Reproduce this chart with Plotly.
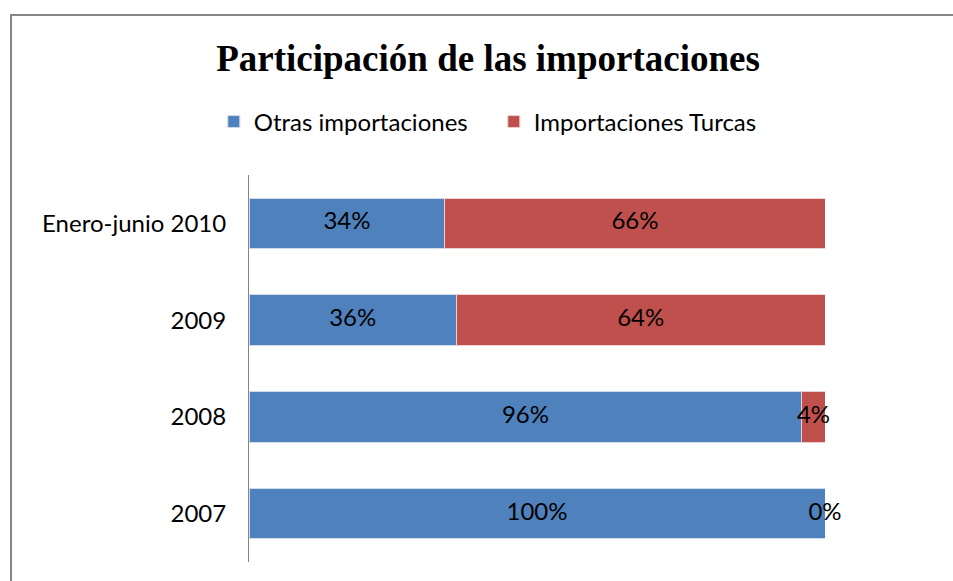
import plotly.graph_objects as go

categorias = ["2007", "2008", "2009", "Enero-junio 2010"]
otras = [1.00, 0.96, 0.36, 0.34]
turcas = [0.00, 0.04, 0.64, 0.66]
series = ["Otras importaciones", "Importaciones Turcas"]

AZUL = "#4F81BD"
ROJO = "#C0504D"
FUENTE = "Lato, Liberation Sans"

fig = go.Figure()
fig.add_trace(go.Bar(y=categorias, x=otras, name=series[0], orientation="h",
                     marker=dict(color=AZUL, line=dict(color="#d0dcec", width=1)),
                     hoverinfo="x+y"))
fig.add_trace(go.Bar(y=categorias, x=turcas, name=series[1], orientation="h",
                     marker=dict(color=ROJO, line=dict(color="#ecd0d0", width=1)),
                     hoverinfo="x+y"))

# etiquetas centradas en cada segmento (incluye el 0%)
centros_x, centros_y, textos = [], [], []
for cat, a, b in zip(categorias, otras, turcas):
    centros_x += [a / 2, a + b / 2]
    centros_y += [cat, cat]
    textos += [f"{round(a * 100)}%", f"{round(b * 100)}%"]
fig.add_trace(go.Scatter(x=centros_x, y=centros_y, text=textos, mode="text",
                         textfont=dict(family=FUENTE, size=24, color="#000000"),
                         cliponaxis=False, showlegend=False, hoverinfo="skip"))

fig.update_layout(
    width=953, height=581,
    barmode="stack", bargap=0.48,
    paper_bgcolor="white", plot_bgcolor="white",
    margin=dict(l=249, r=128, t=175, b=19),
    font=dict(family=FUENTE, size=24, color="#000000"),
    title=dict(text="<b>Participación de las importaciones</b>",
               font=dict(family="Liberation Serif", size=37, color="#000000"),
               xref="paper", x=0.415, xanchor="center",
               yref="container", y=1 - 58 / 581, yanchor="middle"),
    legend=dict(orientation="h", xref="paper", x=0.425, xanchor="center",
                yref="container", y=1 - 122 / 581, yanchor="middle",
                font=dict(size=24), itemwidth=30, traceorder="normal",
                entrywidth=235, entrywidthmode="pixels"),
    showlegend=True,
)
fig.update_xaxes(range=[0, 1], visible=False, fixedrange=True)
fig.update_yaxes(showline=True, linecolor="#868686", linewidth=1, ticks="",
                 ticklabelstandoff=17, tickfont=dict(size=24, color="#000000"),
                 showgrid=False, fixedrange=True)

# marco gris del área del gráfico: sólo bordes superior e izquierdo (CSS)
marco_js = """
document.body.style.margin='0';
document.body.style.overflow='hidden';
var m=document.createElement('div');
m.style.cssText='position:absolute;left:10px;top:14px;width:2000px;height:2000px;'+
  'border-top:2px solid #868686;border-left:2px solid #868686;pointer-events:none;';
document.body.appendChild(m);
"""

fig.write_html("out.html", config={"displayModeBar": False}, post_script=marco_js)
